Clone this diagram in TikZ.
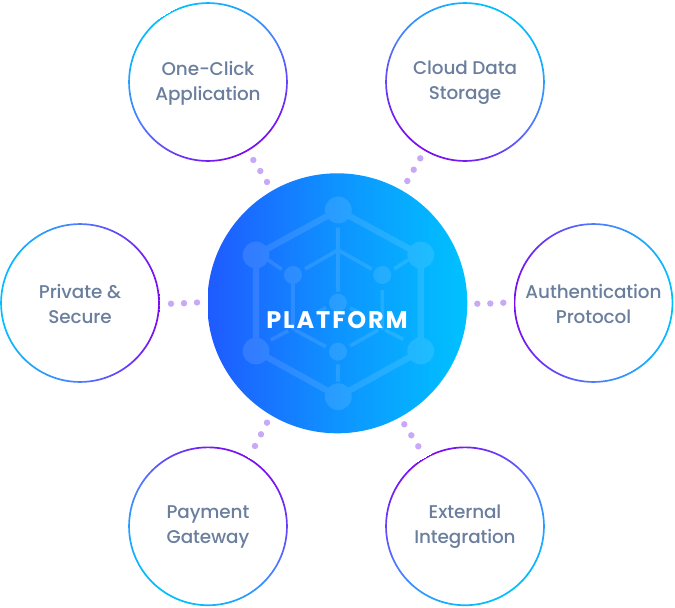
\documentclass[tikz,border=0pt]{standalone}
\usepackage{fontspec}
\setmainfont[LetterSpace=-0.6]{Poppins Medium}
\newfontfamily\hubfont[LetterSpace=8]{Poppins Bold}
\definecolor{hubL}{HTML}{1F5AFF}
\definecolor{hubR}{HTML}{00C2FF}
\definecolor{ringC}{HTML}{00C0FF}
\definecolor{ringM}{HTML}{4F7BFF}
\definecolor{ringP}{HTML}{7A0DF2}
\definecolor{dotc}{HTML}{C7A9F7}
\definecolor{txtc}{HTML}{6A7E9D}
\pgfdeclarehorizontalshading{ringshade}{160pt}{color(0pt)=(ringC); color(80pt)=(ringM); color(160pt)=(ringP)}
\pgfdeclarehorizontalshading{hubshade}{260pt}{color(0pt)=(hubL); color(130pt)=(hubL!45!hubR); color(260pt)=(hubR)}
\tikzset{
  label text/.style={text=txtc,font=\fontsize{18.4pt}{25pt}\selectfont,align=center,inner sep=0pt},
  dotnode/.style={circle,fill=dotc,draw=none,minimum size=6.4pt,inner sep=0pt},
  hexline/.style={draw=white,line width=6.2pt},
  innerline/.style={draw=white,line width=3.6pt},
  shade holder/.style={inner sep=0pt,outer sep=0pt},
}
\newcommand{\gradring}[4]{% x, y, angle, name
  \begin{scope}[even odd rule]
    \clip (#1,#2) circle[radius=79.8] (#1,#2) circle[radius=78.1];
    \node[shade holder,rotate=#3] (#4) at (#1,#2) {\pgfuseshading{ringshade}};
  \end{scope}
}
\begin{document}
\begin{tikzpicture}[x=1pt,y=-1pt]
\useasboundingbox (0,0) rectangle (675,608);
% rings: the cyan end faces away from the hub
\gradring{208}{82}{-59.5}{ringA}
\gradring{465}{82}{-120.5}{ringB}
\gradring{80}{303}{0}{ringC}
\gradring{593.5}{303}{180}{ringD}
\gradring{208}{526.3}{59.5}{ringE}
\gradring{465}{526.3}{120.5}{ringF}
% hub
\begin{scope}
  \clip (337.3,303.3) circle[radius=130];
  \node[shade holder] (hub) at (337.3,303.3) {\pgfuseshading{hubshade}};
\end{scope}
% icon
\begin{scope}[transparency group,opacity=.11]
  \coordinate (hT) at (338.3,210);
  \coordinate (hUL) at (256,255);
  \coordinate (hUR) at (420.7,255);
  \coordinate (hLL) at (256,351);
  \coordinate (hLR) at (420.7,351);
  \coordinate (hB) at (338.3,396.7);
  \draw[hexline] (hT) -- (hUR) -- (hLR) -- (hB) -- (hLL) -- (hUL) -- cycle;
  \foreach \p in {hT,hUL,hUR,hLL,hLR,hB}
    \fill[white] (\p) circle[radius=13.4];
  \foreach \x/\y in {293/275,382.3/275,338/302.7,338/351.7}
    \fill[white] (\x,\y) circle[radius=9];
  \draw[innerline] (338,227.7) -- (338,291.7);
  \draw[innerline] (305,269) -- (338,250) -- (371.7,269);
  \draw[innerline] (268,260) -- (281.7,269.3);
  \draw[innerline] (394,269) -- (408,260);
  \draw[innerline] (293,284) -- (293,330);
  \draw[innerline] (382.3,290) -- (382.3,330);
  \draw[innerline] (270.7,340) -- (288.3,330.7);
  \draw[innerline] (295,330) -- (326,346.7);
  \draw[innerline] (350,346) -- (378.3,330);
  \draw[innerline] (385,330) -- (403.3,339.3);
  \draw[innerline] (316.7,313) -- (326,307.7);
  \draw[innerline] (350,307.7) -- (360,313);
  \draw[innerline] (338,364.3) -- (338,381.7);
\end{scope}
\node[inner sep=0pt,text=white] (platform) at (337,320.5) {\fontsize{24pt}{25pt}\hubfont PLATFORM};
% labels
\node[label text] (tA) at (208,83) {One-Click\\Application};
\node[label text] (tB) at (465,82.5) {Cloud Data\\Storage};
\node[label text] (tC) at (80,304) {Private \&\\Secure};
\node[label text] (tD) at (593.5,304) {Authentication\\Protocol};
\node[label text] (tE) at (208,526.5) {Payment\\Gateway};
\node[label text] (tF) at (465,526.5) {External\\Integration};
% dots
\foreach \n/\x/\y in {a1/253.3/160,a2/260.3/171,a3/267/182,
  b1/420.3/158.3,b2/413.7/169.7,b3/407.3/181,
  c1/171/303.7,c2/184/303.2,c3/197/302.5,
  d1/477.3/303.7,d2/490.3/303.5,d3/503.3/302.7,
  e1/267/422.7,e2/261/434.3,e3/255/446,
  f1/404.3/424.3,f2/411.3/435.3,f3/418.3/446.3}
  \node[dotnode] (\n) at (\x,\y) {};
\end{tikzpicture}
\end{document}
